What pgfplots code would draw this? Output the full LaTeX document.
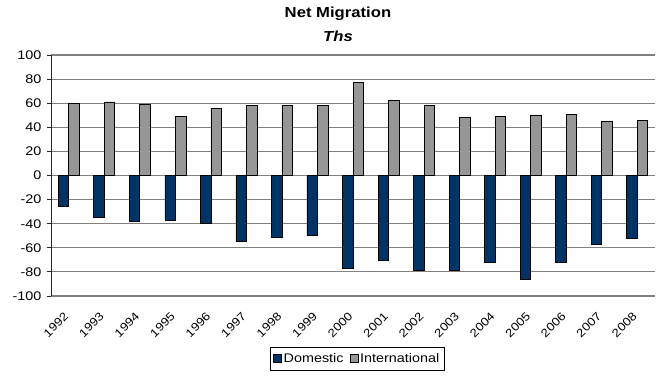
\documentclass[border=0pt]{standalone}
\usepackage{pgfplots}
\pgfplotsset{compat=1.18}
\usepackage{fontspec}
\setmainfont[FakeStretch=1.15]{Liberation Sans}

\definecolor{domestic}{RGB}{0,51,102}
\definecolor{intl}{RGB}{150,150,150}
\definecolor{gridgray}{RGB}{128,128,128}

\begin{document}
\begin{tikzpicture}
\begin{axis}[
  scale only axis,
  width=604pt, height=241pt,
  xmin=-0.5, xmax=16.5,
  ymin=-100, ymax=100,
  ytick={-100,-80,...,100},
  xtick={0,...,16},
  xticklabels={1992,1993,1994,1995,1996,1997,1998,1999,2000,2001,2002,2003,2004,2005,2006,2007,2008},
  ybar=0pt, bar width=10.5pt,
  ymajorgrids,
  grid style={gridgray, line width=1.1pt},
  axis x line*=bottom, axis y line*=left,
  x axis line style={draw=none},
  y axis line style={black!85, line width=0.9pt},
  xtick style={draw=none},
  ytick style={black!85, line width=0.9pt},
  tick align=outside, major tick length=4pt,
  /pgf/number format/assume math mode=true,
  yticklabel style={font=\fontsize{12.5}{14}\selectfont, xshift=-2pt},
  xticklabel style={font=\fontsize{11.5}{13}\selectfont,
    yshift=-12pt, rotate=45, anchor=east},
  title={Net Migration\\\textit{Ths}},
  title style={font=\bfseries\fontsize{14.5}{24}\selectfont, align=center,
    at={(0.5,1)}, anchor=south, inner sep=0pt, xshift=-15pt, yshift=7pt},
  legend style={at={(0.507,-0.2116)}, anchor=north, legend columns=2, draw=black, line width=0.7pt,
    font=\fontsize{12.5}{14}\selectfont, inner xsep=3pt, inner ysep=4pt,
    /tikz/every even column/.append style={column sep=4pt}},
  legend image code/.code={\draw[#1, line width=0.6pt] (0pt,-4pt) rectangle (8pt,4pt);},
]
\addplot[fill=domestic, draw=black, line width=0.7pt] coordinates {
  (0,-26) (1,-35) (2,-38) (3,-37) (4,-40) (5,-55) (6,-51) (7,-50) (8,-77)
  (9,-70) (10,-79) (11,-79) (12,-72) (13,-86) (14,-72) (15,-57) (16,-52)};
\addplot[fill=intl, draw=black, line width=0.7pt] coordinates {
  (0,60) (1,61) (2,59) (3,49) (4,56) (5,58) (6,58) (7,58) (8,77)
  (9,62) (10,58) (11,48) (12,49) (13,50) (14,51) (15,45) (16,46)};
\legend{Domestic, International}
\end{axis}
\path[use as bounding box] ([shift={(-51pt,-79pt)}]current axis.south west) rectangle ([shift={(2pt,55pt)}]current axis.north east);
\end{tikzpicture}
\end{document}
